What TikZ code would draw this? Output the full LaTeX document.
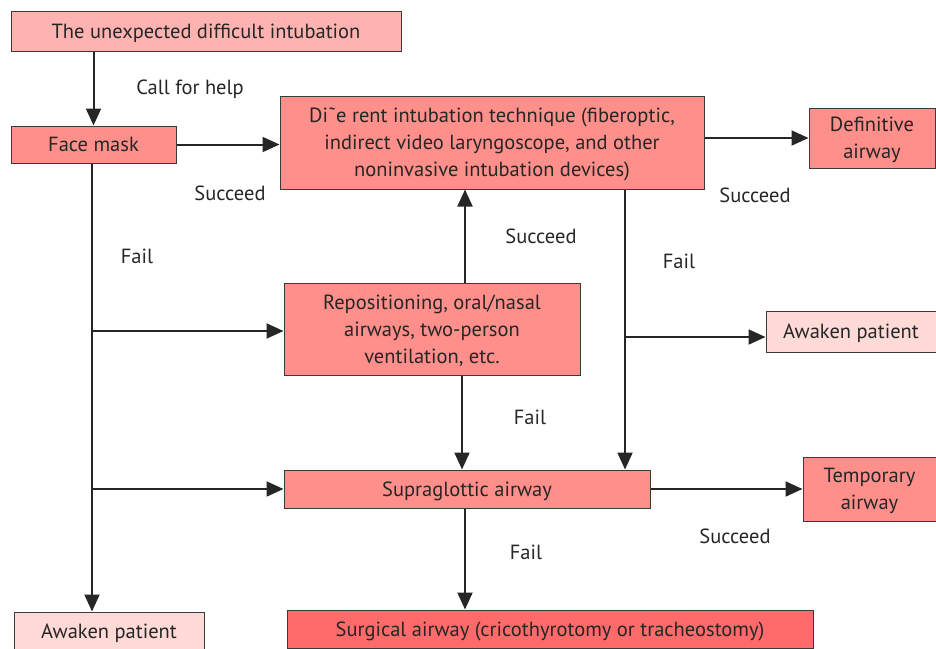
\documentclass[tikz,border=0pt]{standalone}
\usepackage{fontspec}
\setmainfont{PT Sans}
\usetikzlibrary{arrows.meta}
\definecolor{pinkA}{HTML}{FFB3B0}
\definecolor{pinkB}{HTML}{FF8F8A}
\definecolor{pinkC}{HTML}{FFDAD7}
\definecolor{redD}{HTML}{FF6B6B}
\definecolor{edge}{HTML}{3A3A3A}
\tikzset{
  box/.style={draw=edge, line width=1pt, inner sep=2pt, align=center, text depth=0pt, font=\fontsize{20.5}{27}\selectfont, text=black!85},
  lbl/.style={font=\fontsize{20.5}{27}\selectfont, text depth=0pt, text=black!85},
  arr/.style={-{Triangle[length=17pt,width=15pt]}, line width=2pt, draw=black!85}
}
\begin{document}
\begin{tikzpicture}[x=1pt, y=-1pt]
\useasboundingbox (0,0) rectangle (936,648);
% boxes
\node[box, fill=pinkA, minimum width=390pt, minimum height=40pt] (start) at (206,31) {The unexpected difficult intubation};
\node[box, fill=pinkB, minimum width=165pt, minimum height=37pt] (mask) at (93.5,144.5) {Face mask};
\node[box, fill=pinkB, minimum width=424pt, minimum height=93pt] (tech) at (492,142.5) {Di˜e rent intubation technique (fiberoptic,\\indirect video laryngoscope, and other\\noninvasive intubation devices)};
\node[box, fill=pinkB, minimum width=126pt, minimum height=60pt] (defin) at (872,138) {Definitive\\airway};
\node[box, fill=pinkB, minimum width=296pt, minimum height=92pt] (repos) at (432,329) {Repositioning, oral/nasal\\airways, two-person\\ventilation, etc.};
\node[box, fill=pinkC, minimum width=170pt, minimum height=41pt] (wakeR) at (851,331.5) {Awaken patient};
\node[box, fill=pinkB, minimum width=366pt, minimum height=38pt] (supra) at (467,489) {Supraglottic airway};
\node[box, fill=pinkB, minimum width=133pt, minimum height=64pt] (temp) at (869.5,489) {Temporary\\airway};
\node[box, fill=pinkC, minimum width=190pt, minimum height=38pt] (wakeL) at (109,631) {Awaken patient};
\node[box, fill=redD, minimum width=526pt, minimum height=38pt] (surg) at (550,629) {Surgical airway (cricothyrotomy or tracheostomy)};
% junctions
\coordinate (j1) at (92,331);
\coordinate (j2) at (92,489);
\coordinate (j3) at (625,337);
% arrows
\draw[arr] (start.south -| mask) -- (mask.north -| mask);
\draw[arr] (mask) -- (tech.west |- mask);
\draw[arr] (tech.east |- defin) -- (defin);
\draw[arr] (mask.south -| 92,0) -- (wakeL.north -| 92,0);
\draw[arr] (j1) -- (repos.west |- j1);
\draw[arr] (j2) -- (supra.west |- j2);
\draw[arr] (repos.north -| 465,0) -- (tech.south -| 465,0);
\draw[arr] (repos.south -| 462,0) -- (supra.north -| 462,0);
\draw[arr] (tech.south -| j3) -- (supra.north -| j3);
\draw[arr] (j3) -- (wakeR.west |- j3);
\draw[arr] (supra) -- (temp);
\draw[arr] (supra.south -| 465,0) -- (surg.north -| 465,0);
% labels
\node[lbl] (l1) at (190,87) {Call for help};
\node[lbl] (l2) at (230,193) {Succeed};
\node[lbl] (l3) at (755,195) {Succeed};
\node[lbl] (l4) at (137,256) {Fail};
\node[lbl] (l5) at (541,236) {Succeed};
\node[lbl] (l6) at (679,261) {Fail};
\node[lbl] (l7) at (530,417) {Fail};
\node[lbl] (l8) at (735,536) {Succeed};
\node[lbl] (l9) at (526,552) {Fail};
\end{tikzpicture}
\end{document}
